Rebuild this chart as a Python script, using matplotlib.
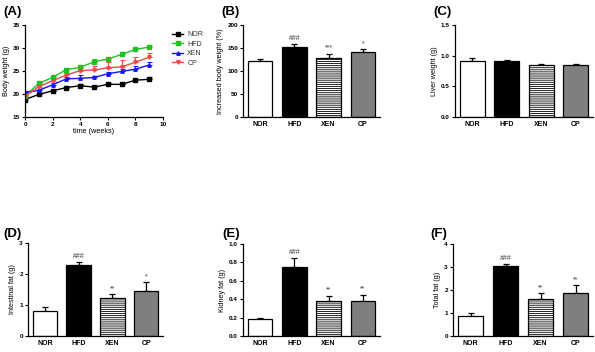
import matplotlib
matplotlib.use('Agg')
import matplotlib.pyplot as plt
from matplotlib.lines import Line2D
import numpy as np

plt.rcParams['font.family'] = ['Liberation Sans', 'DejaVu Sans']
plt.rcParams['font.weight'] = 'bold'
plt.rcParams['hatch.color'] = '#a8a8a8'
plt.rcParams['hatch.linewidth'] = 0.6

# body weight time course (A)
weeks = [0, 1, 2, 3, 4, 5, 6, 7, 8, 9]
bw_nor = [18.8, 19.9, 20.7, 21.4, 21.8, 21.5, 22.1, 22.1, 23.0, 23.2]
bw_hfd = [19.6, 22.3, 23.6, 25.3, 25.8, 27.0, 27.6, 28.6, 29.7, 30.2]
bw_xen = [20.3, 20.8, 22.0, 23.3, 23.4, 23.6, 24.4, 24.9, 25.4, 26.3]
bw_cp = [19.5, 21.6, 22.9, 24.1, 25.1, 25.2, 25.7, 25.9, 26.9, 28.0]
bw_nor_err = [0.3, 0.3, 0.3, 0.3, 0.3, 0.3, 0.3, 0.3, 0.3, 0.5]
bw_hfd_err = [0.3, 0.3, 0.4, 0.4, 0.4, 0.5, 0.5, 0.5, 0.4, 0.5]
bw_xen_err = [0.4, 0.3, 0.4, 0.4, 0.7, 0.4, 0.4, 0.5, 0.6, 0.6]
bw_cp_err = [0.3, 0.3, 0.4, 0.4, 0.6, 0.9, 1.2, 1.5, 1.1, 1.0]

groups = ['NOR', 'HFD', 'XEN', 'CP']

inc_bw = [122, 153, 129, 141]
inc_bw_err = [5, 5, 9, 7]
inc_bw_sig = ['', '###', '***', '*']

liver = [0.92, 0.91, 0.84, 0.84]
liver_err = [0.04, 0.02, 0.02, 0.03]
liver_sig = ['', '', '', '']

intest = [0.81, 2.29, 1.21, 1.46]
intest_err = [0.11, 0.10, 0.15, 0.28]
intest_sig = ['', '###', '**', '*']

kidney = [0.18, 0.75, 0.38, 0.38]
kidney_err = [0.02, 0.10, 0.06, 0.07]
kidney_sig = ['', '###', '**', '**']

total = [0.85, 3.05, 1.60, 1.88]
total_err = [0.14, 0.09, 0.28, 0.33]
total_sig = ['', '###', '**', '**']

fig = plt.figure(figsize=(5.95, 3.52), dpi=100)
W, H = 595.0, 352.0


def add_axes(l, r, top, bot):
    return fig.add_axes([l / W, 1 - bot / H, (r - l) / W, (bot - top) / H])


def style(ax):
    for s in ['top', 'right']:
        ax.spines[s].set_visible(False)
    for s in ['left', 'bottom']:
        ax.spines[s].set_linewidth(0.9)
    ax.tick_params(axis='both', labelsize=4.6, width=0.8, length=2.5, pad=1.2)


def bar_panel(ax, vals, errs, sig, ymax, yticks, ylabel, fmt):
    style(ax)
    x = np.arange(len(groups))
    fills = ['white', 'black', 'white', '#7f7f7f']
    hatches = [None, None, '--------', None]
    for i in range(len(groups)):
        ax.bar(x[i], vals[i], 0.72, color=fills[i], edgecolor='black',
               linewidth=0.9, hatch=hatches[i], zorder=2)
    ax.errorbar(x, vals, yerr=[np.zeros(len(vals)), errs], fmt='none',
                ecolor='black', elinewidth=0.9, capsize=2.5, capthick=0.9, zorder=1)
    for i, s in enumerate(sig):
        if s:
            ax.text(x[i], vals[i] + errs[i] + ymax * 0.02, s, ha='center',
                    va='bottom', fontsize=5, fontweight='normal', color='#333333')
    ax.set_xlim(-0.5, 3.5)
    ax.set_ylim(0, ymax)
    ax.set_yticks(yticks)
    ax.set_yticklabels([fmt.format(t) for t in yticks])
    ax.set_xticks(x)
    ax.set_xticklabels(groups, fontsize=5)
    ax.tick_params(axis='x', length=0, pad=3)
    ax.set_ylabel(ylabel, fontsize=5.2, labelpad=2)


# (A)
axA = add_axes(25, 163, 25, 117)
style(axA)
series = [(bw_nor, bw_nor_err, 'black', 's', 'NOR'),
          (bw_hfd, bw_hfd_err, '#22c022', 's', 'HFD'),
          (bw_xen, bw_xen_err, '#1515f0', '^', 'XEN'),
          (bw_cp, bw_cp_err, '#f04848', 'v', 'CP')]
handles = []
for vals, errs, c, m, lab in series:
    axA.errorbar(weeks, vals, yerr=[np.zeros(len(errs)), errs], color=c,
                 marker=m, markersize=2.5, linewidth=1.0, elinewidth=0.8,
                 capsize=1.8, capthick=0.8)
    handles.append(Line2D([], [], color=c, marker=m, markersize=2.5,
                          linewidth=1.0, label=lab))
axA.set_xlim(0, 10)
axA.set_ylim(15, 35)
axA.set_xticks([0, 2, 4, 6, 8, 10])
axA.set_yticks([15, 20, 25, 30, 35])
axA.set_xlabel('time (weeks)', fontsize=5.2, labelpad=0.5)
axA.set_ylabel('Body weight (g)', fontsize=5.2, labelpad=2)
leg = axA.legend(handles=handles, loc='upper left', bbox_to_anchor=(1.02, 1.0),
                 frameon=False, handlelength=1.6, handletextpad=0.6,
                 labelspacing=0.35, prop={'weight': 'normal', 'size': 5})
for t in leg.get_texts():
    t.set_color('#333333')

# (B)
axB = add_axes(243, 380, 25, 117)
bar_panel(axB, inc_bw, inc_bw_err, inc_bw_sig, 200, [0, 50, 100, 150, 200],
          'Increased body weight (%)', '{:.0f}')

# (C)
axC = add_axes(455, 593, 25, 117)
bar_panel(axC, liver, liver_err, liver_sig, 1.5, [0.0, 0.5, 1.0, 1.5],
          'Liver weight (g)', '{:.1f}')

# (D)
axD = add_axes(28, 163, 243, 336)
bar_panel(axD, intest, intest_err, intest_sig, 3, [0, 1, 2, 3],
          'Intestinal fat (g)', '{:.0f}')

# (E)
axE = add_axes(243, 380, 244, 336)
bar_panel(axE, kidney, kidney_err, kidney_sig, 1.0, [0.0, 0.2, 0.4, 0.6, 0.8, 1.0],
          'Kidney fat (g)', '{:.1f}')

# (F)
axF = add_axes(453, 593, 244, 336)
bar_panel(axF, total, total_err, total_sig, 4, [0, 1, 2, 3, 4],
          'Total fat (g)', '{:.0f}')

# panel letters
for lab, px, py in [('(A)', 3, 12), ('(B)', 221, 12), ('(C)', 433, 12),
                    ('(D)', 3, 234), ('(E)', 222, 234), ('(F)', 430, 234)]:
    fig.text(px / W, 1 - py / H, lab, fontsize=9.5, fontweight='bold',
             ha='left', va='center')

plt.savefig('out.png', dpi=100)
